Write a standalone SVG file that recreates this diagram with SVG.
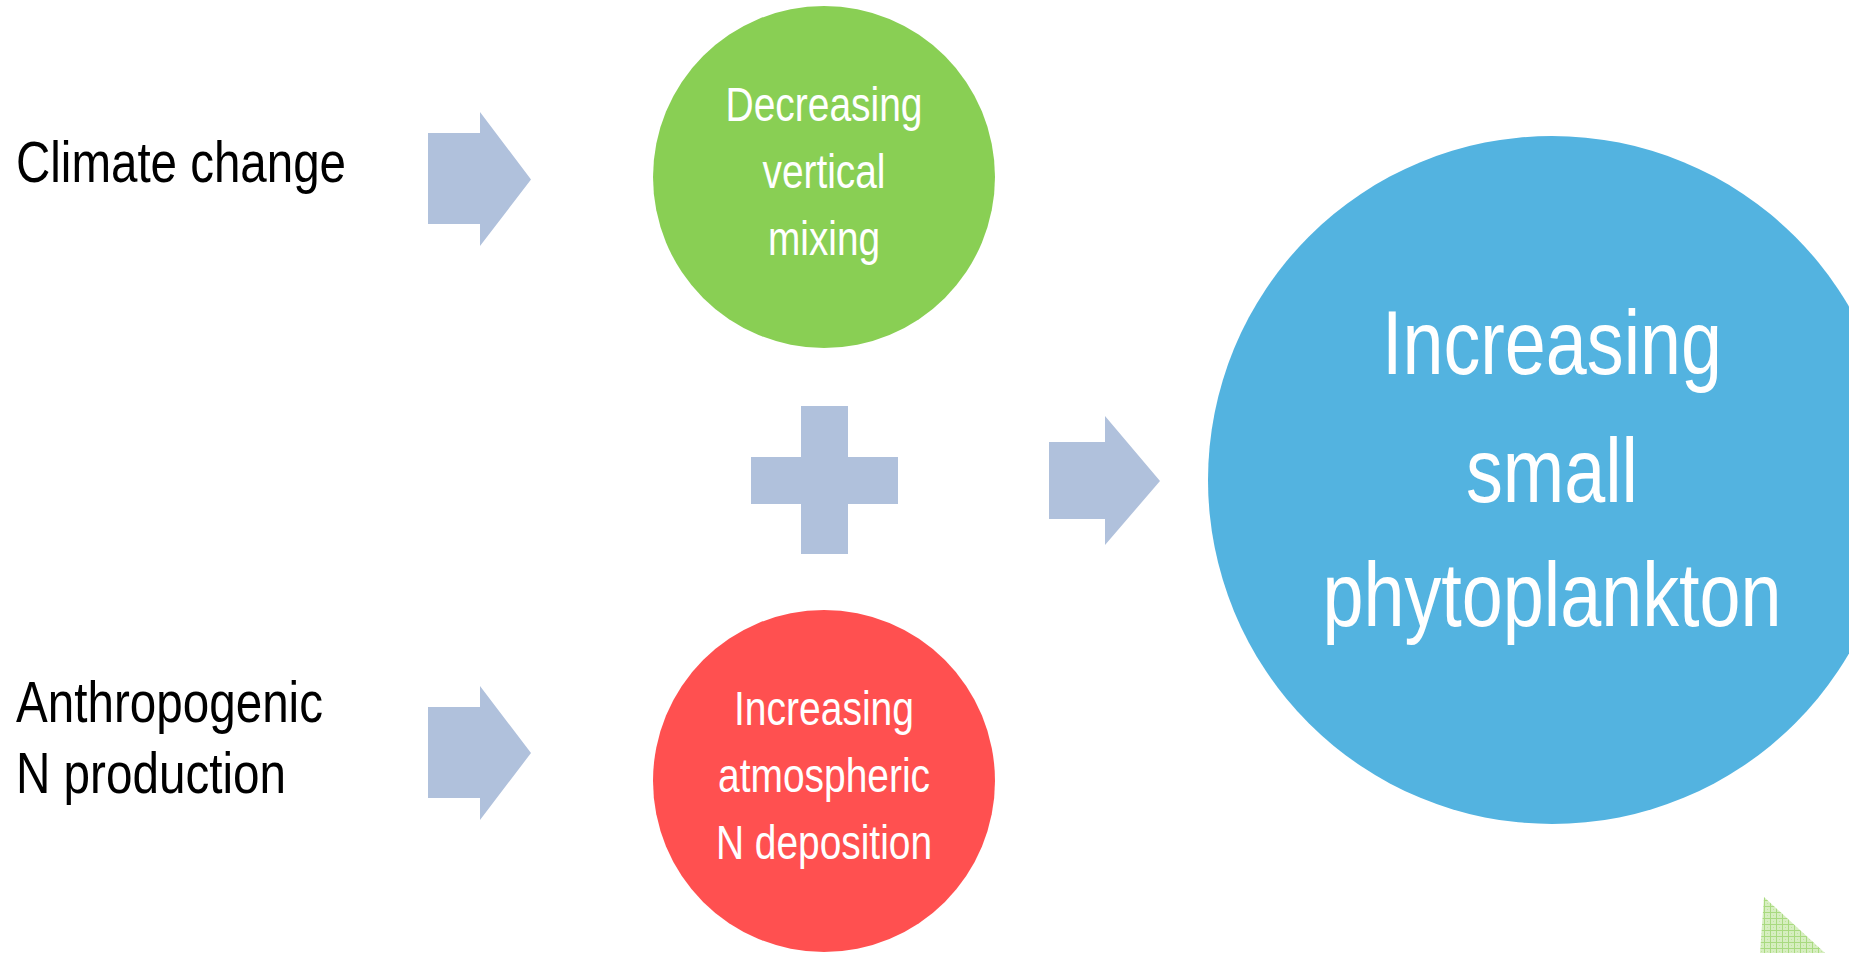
<svg xmlns="http://www.w3.org/2000/svg" width="1851" height="953" viewBox="0 0 1851 953">
  <defs>
    <style>
      .label { font-family: "Liberation Sans Narrow", "Liberation Sans", Arial, sans-serif; }
      .dark { fill: #000000; font-size: 58px; }
      .light { fill: #ffffff; font-size: 47.5px; text-anchor: middle; }
      .big { fill: #ffffff; font-size: 90px; text-anchor: middle; }
      .flow { fill: #B0C1DC; }
    </style>
    <clipPath id="page-edge">
      <rect x="0" y="0" width="1849" height="953"/>
    </clipPath>
    <pattern id="mesh" width="6" height="6" patternUnits="userSpaceOnUse">
      <rect width="6" height="6" fill="#D6EEC0"/>
      <rect x="0" y="0" width="6" height="1" fill="#A9DA80"/>
      <rect x="0" y="0" width="1" height="6" fill="#A9DA80"/>
      <rect x="3" y="3" width="1" height="1" fill="#BFE49C"/>
    </pattern>
  </defs>

  <rect width="1851" height="953" fill="#ffffff"/>

  <!-- driver labels -->
  <g id="climate-change">
    <text class="label dark" x="16" y="182" textLength="330" lengthAdjust="spacingAndGlyphs">Climate change</text>
  </g>
  <g id="anthropogenic-n">
    <text class="label dark" x="16" y="722" textLength="307" lengthAdjust="spacingAndGlyphs">Anthropogenic</text>
    <text class="label dark" x="16" y="793" textLength="270" lengthAdjust="spacingAndGlyphs">N production</text>
  </g>

  <!-- process circles -->
  <g id="vertical-mixing">
    <circle cx="824" cy="177" r="171" fill="#89CF54"/>
    <text class="label light" x="824" y="121" textLength="197" lengthAdjust="spacingAndGlyphs">Decreasing</text>
    <text class="label light" x="824" y="188" textLength="123" lengthAdjust="spacingAndGlyphs">vertical</text>
    <text class="label light" x="824" y="255" textLength="112" lengthAdjust="spacingAndGlyphs">mixing</text>
  </g>
  <g id="n-deposition">
    <circle cx="824" cy="781" r="171" fill="#FF5050"/>
    <text class="label light" x="824" y="725" textLength="180" lengthAdjust="spacingAndGlyphs">Increasing</text>
    <text class="label light" x="824" y="792" textLength="212" lengthAdjust="spacingAndGlyphs">atmospheric</text>
    <text class="label light" x="824" y="859" textLength="216" lengthAdjust="spacingAndGlyphs">N deposition</text>
  </g>

  <!-- outcome circle, cut by the right page edge -->
  <g id="small-phytoplankton">
    <circle cx="1552" cy="480" r="344" fill="#53B3E0" clip-path="url(#page-edge)"/>
    <text class="label big" x="1552" y="374" textLength="340" lengthAdjust="spacingAndGlyphs">Increasing</text>
    <text class="label big" x="1552" y="502" textLength="172" lengthAdjust="spacingAndGlyphs">small</text>
    <text class="label big" x="1552" y="626" textLength="459" lengthAdjust="spacingAndGlyphs">phytoplankton</text>
  </g>

  <!-- block arrows and the plus sign -->
  <g id="connectors">
    <polygon class="flow" points="428,133 480,133 480,112 531,179.5 480,246 480,224 428,224"/>
    <polygon class="flow" points="428,707 480,707 480,686 531,753 480,820 480,798 428,798"/>
    <g id="plus">
      <rect class="flow" x="751" y="457" width="147" height="47"/>
      <rect class="flow" x="801" y="406" width="47" height="148"/>
    </g>
    <polygon class="flow" points="1049,442 1105,442 1105,416 1160,481 1105,545 1105,519 1049,519"/>
  </g>

  <!-- corner decoration -->
  <polygon points="1764,897 1825,953 1760,953" fill="url(#mesh)"/>
</svg>
